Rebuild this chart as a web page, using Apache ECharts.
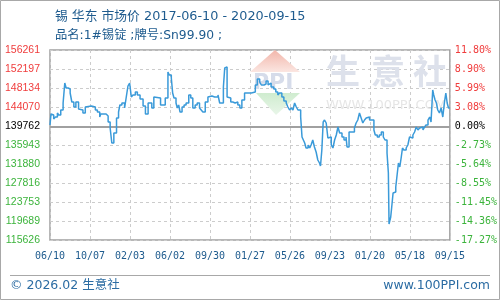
<!DOCTYPE html>
<html>
<head>
<meta charset="utf-8">
<script src="https://cdn.jsdelivr.net/npm/echarts@6/dist/echarts.min.js"></script>
<style>html,body{margin:0;padding:0;background:#fff}#c{width:500px;height:300px}</style>
</head>
<body>
<div id="c"></div>
<script>
// days since 2017-06-10
var days = [0,3,6,11,16,22,26,32,39,44,48,54,60,65,71,77,85,89,98,105,108,123,128,135,141,148,151,167,173,179,184,190,198,204,208,214,222,227,232,237,242,247,254,260,268,277,284,292,303,309,313,329,343,351,355,361,365,369,375,379,383,387,393,399,405,413,419,425,432,438,445,450,455,462,470,475,482,490,495,500,505,516,520,524,527,532,538,544,551,559,565,571,579,589,599,611,617,624,629,637,643,649,654,658,666,672,678,683,690,696,703,708,713,718,723,728,733,738,746,750,754,758,762,768,773,777,782,787,792,797,802,805,809,813,817,822,827,831,837,842,847,852,857,862,869,875,881,884,890,896,898,906,911,916,921,926,931,936,941,946,951,964,968,974,980,986,992,997,1003,1007,1009,1014,1017,1021,1025,1029,1033,1037,1041,1045,1049,1053,1060,1065,1070,1075,1080,1085,1090,1095,1100,1105,1110,1115,1119,1125,1130,1134,1139,1142,1146,1150,1154,1159,1164,1169,1174,1178,1182,1186,1190];
var prices = [140221,142573,142359,141504,141932,142787,142359,143429,144926,149203,148134,147920,147065,145140,144070,145140,143643,143429,142787,144070,144284,144498,144070,143429,143001,141932,142573,142146,140862,139579,136371,138510,141718,143001,144498,144926,143857,146209,148562,149203,146209,146637,147279,146637,145781,144284,142573,144926,143857,146209,145995,144498,145995,151556,150914,150273,147065,145995,144926,143857,144498,143001,144070,144498,144926,146637,145995,143857,144498,144926,143857,143429,143001,145140,146209,146423,146209,145995,146209,146637,144926,148348,152411,152625,146209,145995,145140,144926,145140,144498,143857,145568,147065,147065,147279,148776,150059,149417,148776,148989,149631,148776,149203,148348,147920,147279,146637,147065,146209,145354,144926,144070,143429,143857,143429,144926,144070,143429,141932,137654,137013,136371,135302,135943,135302,135943,137013,135516,134446,132735,132094,131452,134874,140862,141290,140649,137440,137654,135943,135302,137013,138082,139793,138510,137654,137013,137654,135516,138724,138938,138724,139579,140649,141290,142787,141718,140649,141290,141718,141932,141290,139151,138082,137654,138082,138724,137654,137013,134232,129955,119050,120545,122683,125678,125891,126961,129527,132094,131238,133163,135302,134874,135302,135943,137654,137440,138082,138724,139793,139151,139579,139793,139151,139793,140221,141290,141932,140862,147706,146637,145568,144926,143429,142787,143857,141932,145140,147065,144926,143857,143857];
var xLabels = ['06/10','10/07','02/03','06/02','09/30','01/27','05/26','09/23','01/20','05/18','09/15'];
var leftLabels = ['156261','152197','148134','144070','139762','135943','131880','127816','123753','119689','115626'];
var rightLabels = ['11.80%','8.90%','5.99%','3.08%','0.00%','-2.73%','-5.64%','-8.55%','-11.45%','-14.36%','-17.27%'];
var basePrice = 139762;
var yMin = 115626, yMax = 156261;
var titleText = '锡 华东 市场价 2017-06-10 - 2020-09-15';
var subText = '品名:1#锡锭 ;牌号:Sn99.90 ;';

function labelColor(i){ return i < 4 ? '#f03c3c' : (i === 4 ? '#000000' : '#3cb43c'); }

var chart = echarts.init(document.getElementById('c'), null, {renderer:'canvas'});
var data = days.map(function(d,i){ return [d, prices[i]]; });
chart.setOption({
  animation:false,
  backgroundColor:'#fff',
  title:[
    {text:titleText, left:50, top:5, textStyle:{fontFamily:'DejaVu Sans, Noto Sans CJK SC', fontSize:12.8, fontWeight:'normal', color:'#1e5b8e'}},
    {text:subText, left:50, top:25, textStyle:{fontFamily:'DejaVu Sans, Noto Sans CJK SC', fontSize:12.3, fontWeight:'normal', color:'#1e5b8e'}}
  ],
  grid:{left:50, right:50, top:50, bottom:60, show:true, borderColor:'#a0a0a0', borderWidth:1.5, containLabel:false},
  xAxis:{type:'value', min:0, max:1190, interval:119,
    axisLine:{show:false}, axisTick:{show:false},
    axisLabel:{margin:11, fontFamily:'DejaVu Sans Mono', fontSize:10, color:'#1e5b8e',
      formatter:function(v){ return xLabels[Math.round(v/119)] || ''; }},
    splitLine:{show:true, lineStyle:{color:'#cccccc', type:[3,3], width:1}}
  },
  yAxis:[
    {type:'value', position:'left', min:0, max:10, interval:1,
      axisLine:{show:false}, axisTick:{show:false},
      axisLabel:{margin:10, fontFamily:'Liberation Sans', fontSize:10.5,
        formatter:function(v){ return leftLabels[10-Math.round(v)]; },
        color:function(v){ return labelColor(10-Math.round(Number(v))); }},
      splitLine:{show:true, lineStyle:{color:'#cccccc', type:[3,3], width:1}}
    },
    {type:'value', min:yMin, max:yMax, show:false},
    {type:'value', position:'right', min:0, max:10, interval:1,
      axisLine:{show:false}, axisTick:{show:false},
      axisLabel:{margin:5, fontFamily:'DejaVu Sans Mono', fontSize:10,
        formatter:function(v){ return rightLabels[10-Math.round(v)]; },
        color:function(v){ return labelColor(10-Math.round(Number(v))); }},
      splitLine:{show:false}
    }
  ],
  graphic:[
    {type:'rect', shape:{x:0.5,y:0.5,width:499,height:299}, style:{fill:'none', stroke:'#a8a8a8', lineWidth:1}, z:0},
    {type:'line', shape:{x1:10,y1:275.5,x2:490,y2:275.5}, style:{stroke:'#a8a8a8', lineWidth:1}},
    {type:'text', left:10, top:279, style:{text:'© 2026.02 生意社', font:'12.5px DejaVu Sans, Noto Sans CJK SC', fill:'#2b6ca3'}},
    {type:'text', right:10, top:279, style:{text:'www.100PPI.com', font:'12.5px DejaVu Sans', fill:'#2b6ca3'}},
    {type:'polygon', shape:{points:[[250,72],[275,50],[300,72]]}, style:{fill:new echarts.graphic.LinearGradient(0,0,0,1,[{offset:0,color:'#f2b6aa'},{offset:1,color:'#fbe6e1'}])}, z:1},
    {type:'text', x:253, y:72, style:{text:'PPI', font:'bold 22px DejaVu Sans', fill:'#d6dcea'}, z:1},
    {type:'polygon', shape:{points:[[256,93],[300,93],[276,115]]}, style:{fill:new echarts.graphic.LinearGradient(0,0,0,1,[{offset:0,color:'#cfeccf'},{offset:1,color:'#e9f6e9'}])}, z:1},
    {type:'text', x:343, y:71, style:{text:'生', font:'bold 34px Noto Sans CJK SC', fill:'#dde1eb', align:'center', verticalAlign:'middle'}, z:1},
    {type:'text', x:388, y:71, style:{text:'意', font:'bold 34px Noto Sans CJK SC', fill:'#dde1eb', align:'center', verticalAlign:'middle'}, z:1},
    {type:'text', x:430, y:71, style:{text:'社', font:'bold 34px Noto Sans CJK SC', fill:'#dde1eb', align:'center', verticalAlign:'middle'}, z:1},
    {type:'text', x:386, y:106, style:{text:'WWW.100PPI.COM', font:'13px DejaVu Sans', fill:'#e6e6e6', align:'center', verticalAlign:'middle'}, z:1}
  ],
  series:[{
    type:'line', xAxisIndex:0, yAxisIndex:1, data:data, step:'end', symbol:'none', z:5,
    lineStyle:{color:'#3a9ad9', width:1.5},
    markLine:{silent:true, symbol:'none', label:{show:false}, z:3,
      lineStyle:{color:'#a0a0a0', type:'solid', width:2},
      data:[{yAxis:basePrice}]}
  }]
});
</script>
</body>
</html>
